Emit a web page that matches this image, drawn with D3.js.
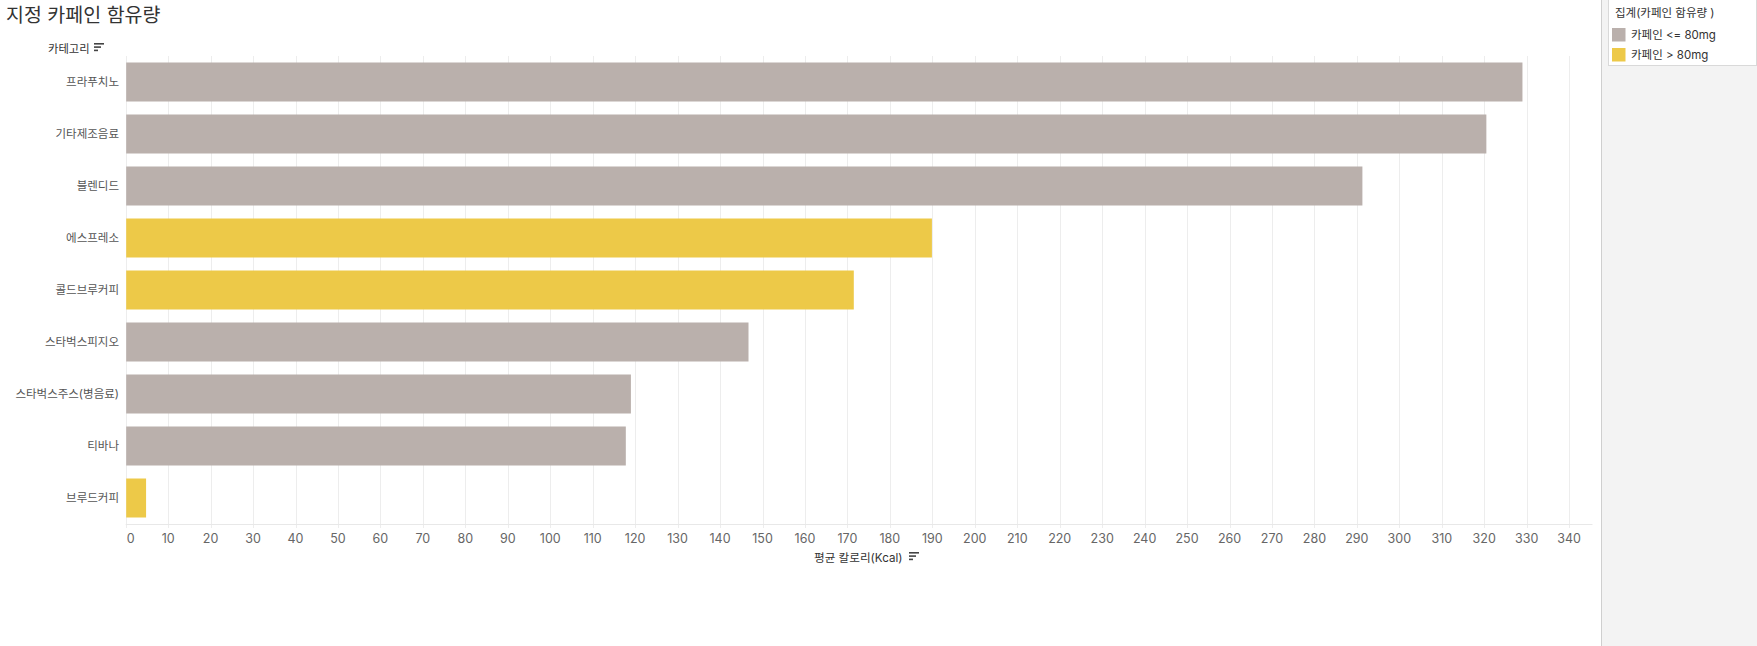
<!DOCTYPE html>
<html>
<head>
<meta charset="utf-8">
<script src="https://cdn.jsdelivr.net/npm/d3@7"></script>
<style>
  html, body { margin: 0; padding: 0; background: #fff; }
  svg { display: block; font-family: Inter, "Noto Sans CJK KR", sans-serif; }
</style>
</head>
<body>
<div id="chart"></div>
<script>
const categories = ["프라푸치노", "기타제조음료", "블렌디드", "에스프레소", "콜드브루커피", "스타벅스피지오", "스타벅스주스(병음료)", "티바나", "브루드커피"];
const calories = [329, 320.5, 291.3, 189.9, 171.5, 146.7, 119, 117.8, 4.8];
const caffeineGroup = ["low", "low", "low", "high", "high", "low", "low", "low", "high"];
const legendKeys = ["low", "high"];
const legendLabels = ["카페인 <= 80mg", "카페인 > 80mg"];
const xTicks = d3.range(0, 341, 10);

const WIDTH = 1757, HEIGHT = 646;
const PLOT = { left: 125.7, right: 1592.5, top: 56, bottom: 524 };

let color = d3.scaleOrdinal().domain(legendKeys).range(["#bab0ac", "#edc948"]);

let svg = d3.select("#chart")
  .append("svg")
  .attr("width", WIDTH)
  .attr("height", HEIGHT);

let x = d3.scaleLinear().domain([0, 345.5]).range([PLOT.left, PLOT.right]);
let y = d3.scaleBand().domain(categories).range([PLOT.top, PLOT.bottom])
  .paddingInner(0.25).paddingOuter(0.125);

// little "sort" glyph used next to the axis titles
function sortIcon(g, px, py) {
  [10, 7, 4].forEach((w, i) => {
    g.append("rect").attr("x", px).attr("y", py + i * 3.3).attr("width", w).attr("height", 1.6).attr("fill", "#444");
  });
}

// title
svg.append("text")
  .attr("x", 6).attr("y", 22)
  .attr("font-size", 19.5).attr("fill", "#333")
  .text("지정 카페인 함유량");

// grid
svg.append("g")
  .selectAll("line")
  .data(xTicks)
  .enter()
  .append("line")
  .attr("x1", d => Math.round(x(d)) + 0.5).attr("x2", d => Math.round(x(d)) + 0.5)
  .attr("y1", PLOT.top).attr("y2", PLOT.bottom + 4)
  .attr("stroke", "#ededed");

svg.append("line")
  .attr("x1", PLOT.left).attr("x2", PLOT.right)
  .attr("y1", PLOT.bottom + 0.5).attr("y2", PLOT.bottom + 0.5)
  .attr("stroke", "#e8e8e8");

// bars
svg.append("g")
  .selectAll("rect")
  .data(categories)
  .enter()
  .append("rect")
  .attr("x", x(0) + 0.5)
  .attr("y", d => y(d))
  .attr("width", (d, i) => x(calories[i]) - x(0) - 0.5)
  .attr("height", y.bandwidth())
  .attr("fill", (d, i) => color(caffeineGroup[i]));

// category labels
svg.append("g")
  .selectAll("text")
  .data(categories)
  .enter()
  .append("text")
  .attr("x", 119)
  .attr("y", d => y(d) + y.bandwidth() / 2)
  .attr("dy", "0.35em")
  .attr("text-anchor", "end")
  .attr("font-size", 11.5).attr("fill", "#555")
  .text(d => d);

let catTitle = svg.append("g");
catTitle.append("text")
  .attr("x", 48).attr("y", 49).attr("dy", "0.35em")
  .attr("font-size", 11.3).attr("fill", "#333")
  .text("카테고리");
sortIcon(catTitle, 94, 43);

// x tick labels
svg.append("g")
  .selectAll("text")
  .data(xTicks)
  .enter()
  .append("text")
  .attr("x", d => d === 0 ? x(d) + 5 : x(d))
  .attr("y", 539).attr("dy", "0.35em")
  .attr("text-anchor", "middle")
  .attr("font-size", 12.5).attr("fill", "#666")
  .text(d => d);

let xTitle = svg.append("g");
xTitle.append("text")
  .attr("x", 814).attr("y", 558).attr("dy", "0.35em")
  .attr("font-size", 11.6).attr("fill", "#333")
  .text("평균 칼로리(Kcal)");
sortIcon(xTitle, 909, 552);

// legend panel
let panel = svg.append("g");
panel.append("rect")
  .attr("x", 1601.5).attr("y", 0).attr("width", WIDTH - 1601).attr("height", HEIGHT)
  .attr("fill", "#f3f3f3");
panel.append("line")
  .attr("x1", 1601.5).attr("x2", 1601.5).attr("y1", 0).attr("y2", HEIGHT)
  .attr("stroke", "#cfcfcf");
panel.append("rect")
  .attr("x", 1608.5).attr("y", -1).attr("width", 148).attr("height", 66.5)
  .attr("fill", "#fff").attr("stroke", "#d9d9d9");
panel.append("text")
  .attr("x", 1615).attr("y", 12.5).attr("dy", "0.35em")
  .attr("font-size", 11.5).attr("fill", "#333")
  .text("집계(카페인 함유량 )");

let items = panel.selectAll("g.item")
  .data(legendKeys)
  .enter()
  .append("g")
  .attr("class", "item")
  .attr("transform", (d, i) => `translate(1612, ${28 + i * 20})`);
items.append("rect")
  .attr("width", 13.5).attr("height", 13.5)
  .attr("fill", d => color(d));
items.append("text")
  .attr("x", 19).attr("y", 7).attr("dy", "0.35em")
  .attr("font-size", 11.5).attr("fill", "#333")
  .text((d, i) => legendLabels[i]);
</script>
</body>
</html>
